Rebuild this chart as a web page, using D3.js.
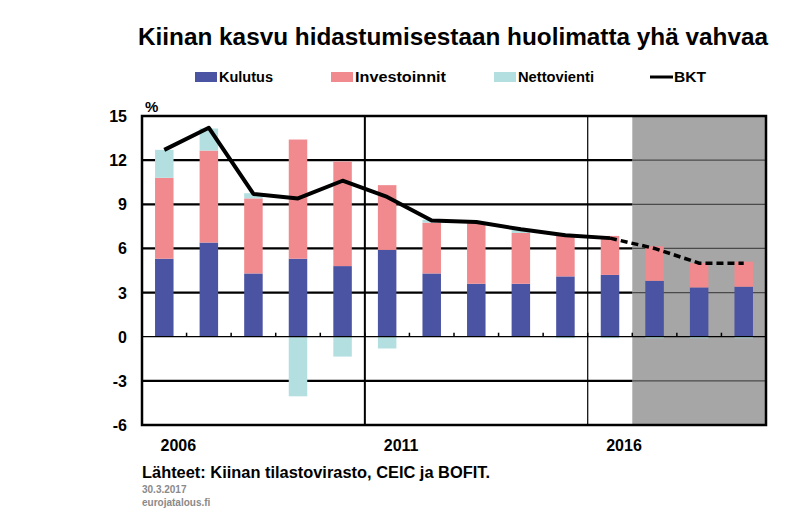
<!DOCTYPE html>
<html><head><meta charset="utf-8">
<script src="https://cdn.jsdelivr.net/npm/d3@7"></script>
<style>body{margin:0;background:#fff}svg{display:block;font-family:"Liberation Sans",Arial,sans-serif}</style>
</head><body><svg id="c" width="800" height="523"></svg>
<script>
const years = [2006,2007,2008,2009,2010,2011,2012,2013,2014,2015,2016,2017,2018,2019];
const kulutus = [5.3,6.4,4.3,5.3,4.8,5.9,4.3,3.6,3.6,4.1,4.2,3.8,3.35,3.4];
const investoinnit = [5.5,6.25,5.1,8.1,7.1,4.4,3.45,4.15,3.45,2.8,2.65,2.35,1.65,1.7];
const nettovienti = [1.9,1.5,0.35,-4.05,-1.35,-0.8,0.2,0,0.2,-0.1,-0.1,-0.1,-0.1,-0.1];
const bkt = [12.7,14.2,9.7,9.4,10.6,9.5,7.9,7.8,7.3,6.9,6.7,6.0,5.0,5.0];
const yTicks = [-6,-3,0,3,6,9,12,15];
const yearLabels = [2006,2011,2016];
const seriesNames = ["Kulutus","Investoinnit","Nettovienti"];
const colors = {Kulutus:"#4b53a3", Investoinnit:"#f08a8f", Nettovienti:"#b4dfe1"};

const svg = d3.select("#c");
const L=142,R=766,T=116,B=425;
const x = d3.scaleBand().domain(years).range([L,R]).paddingInner(0.585).paddingOuter(0.2925);
const step = x.step();
const y = d3.scaleLinear().domain([-6,15]).range([B,T]);

// title
svg.append("text").attr("x",138).attr("y",45).attr("font-size",23).attr("font-weight","bold")
  .attr("textLength",630).attr("lengthAdjust","spacingAndGlyphs")
  .text("Kiinan kasvu hidastumisestaan huolimatta yhä vahvaa");

// legend
const leg = [
  {n:"Kulutus", sx:195, tx:219, tw:54},
  {n:"Investoinnit", sx:331, tx:355, tw:91},
  {n:"Nettovienti", sx:494, tx:518, tw:76},
  {n:"BKT", sx:650, tx:674, tw:32, line:true}];
leg.forEach(d=>{
  if(d.line) svg.append("line").attr("x1",d.sx).attr("x2",d.sx+23).attr("y1",77).attr("y2",77).attr("stroke","#000").attr("stroke-width",3);
  else svg.append("rect").attr("x",d.sx).attr("y",72).attr("width",22).attr("height",10).attr("fill",colors[d.n]);
  svg.append("text").attr("x",d.tx).attr("y",82).attr("font-size",14).attr("font-weight","bold")
    .attr("textLength",d.tw).attr("lengthAdjust","spacingAndGlyphs").text(d.n);
});

// gridlines
const g = svg.append("g");
yTicks.filter(t=>t!==0 && t!==-6 && t!==15).forEach(t=>{
  g.append("line").attr("x1",L).attr("x2",R).attr("y1",y(t)).attr("y2",y(t)).attr("stroke","#000").attr("stroke-width",2.2);
});
// shaded forecast area
const shadeX = x(2017) - (step - x.bandwidth())/2;
svg.append("rect").attr("x",shadeX).attr("y",T).attr("width",R-shadeX).attr("height",B-T).attr("fill","#a6a6a6");
yTicks.filter(t=>t!==0 && t!==-6 && t!==15).forEach(t=>{
  svg.append("line").attr("x1",shadeX).attr("x2",R).attr("y1",y(t)).attr("y2",y(t)).attr("stroke","#4a4a4a").attr("stroke-width",1.2);
});
// vertical separators
const vx1 = x(2011) - (step - x.bandwidth())/2;
const vx2 = x(2016) - (step - x.bandwidth())/2;
svg.append("line").attr("x1",vx1).attr("x2",vx1).attr("y1",T).attr("y2",B).attr("stroke","#000").attr("stroke-width",2);
svg.append("line").attr("x1",vx2).attr("x2",vx2).attr("y1",T).attr("y2",B).attr("stroke","#000").attr("stroke-width",1.2);

// bars
const table = years.map((yr,i)=>({year:yr, Kulutus:kulutus[i], Investoinnit:investoinnit[i], Nettovienti:nettovienti[i]}));
const stack = d3.stack().keys(seriesNames).offset(d3.stackOffsetDiverging)(table);
svg.append("g").selectAll("g").data(stack).join("g").attr("fill",d=>colors[d.key])
  .selectAll("rect").data(d=>d).join("rect")
  .attr("x",d=>x(d.data.year)).attr("width",x.bandwidth())
  .attr("y",d=>y(Math.max(d[0],d[1]))).attr("height",d=>Math.abs(y(d[0])-y(d[1])));

// zero line and ticks
svg.append("line").attr("x1",L).attr("x2",R).attr("y1",y(0)).attr("y2",y(0)).attr("stroke","#000").attr("stroke-width",1.3);
years.slice(1).forEach(yr=>{
  const tx = x(yr) - (step - x.bandwidth())/2;
  svg.append("line").attr("x1",tx).attr("x2",tx).attr("y1",y(0)).attr("y2",y(0)-4).attr("stroke","#000").attr("stroke-width",1.5);
});

// GDP line
const pts = years.map((yr,i)=>[x(yr)+x.bandwidth()/2, y(bkt[i])]);
const line = d3.line();
const iSplit = years.indexOf(2016);
svg.append("path").attr("d",line(pts.slice(0,iSplit+1))).attr("fill","none").attr("stroke","#000").attr("stroke-width",4).attr("stroke-linejoin","round");
svg.append("path").attr("d",line(pts.slice(iSplit))).attr("fill","none").attr("stroke","#000").attr("stroke-width",3.5).attr("stroke-dasharray","7,4");

// frame
svg.append("rect").attr("x",L).attr("y",T).attr("width",R-L).attr("height",B-T).attr("fill","none").attr("stroke","#000").attr("stroke-width",2.5);

// y ticks labels
yTicks.forEach(t=>{
  svg.append("text").attr("x",127).attr("y",y(t)+6).attr("text-anchor","end").attr("font-size",16).attr("font-weight","bold").text(t);
});
svg.append("text").attr("x",145).attr("y",112).attr("font-size",15).attr("font-weight","bold").text("%");

// x labels
yearLabels.forEach(yr=>{
  svg.append("text").attr("x",x(yr)+x.bandwidth()/2+14).attr("y",451).attr("text-anchor","middle").attr("font-size",16).attr("font-weight","bold").text(yr);
});

// source
svg.append("text").attr("x",142).attr("y",478).attr("font-size",16).attr("font-weight","bold")
  .attr("textLength",348).attr("lengthAdjust","spacingAndGlyphs").text("Lähteet: Kiinan tilastovirasto,  CEIC ja BOFIT.");
svg.append("text").attr("x",142).attr("y",493).attr("font-size",10).attr("font-weight","bold").attr("fill","#8a8a8a").text("30.3.2017");
svg.append("text").attr("x",142).attr("y",506).attr("font-size",10).attr("font-weight","bold").attr("fill","#8a8a8a").text("eurojatalous.fi");
</script></body></html>
